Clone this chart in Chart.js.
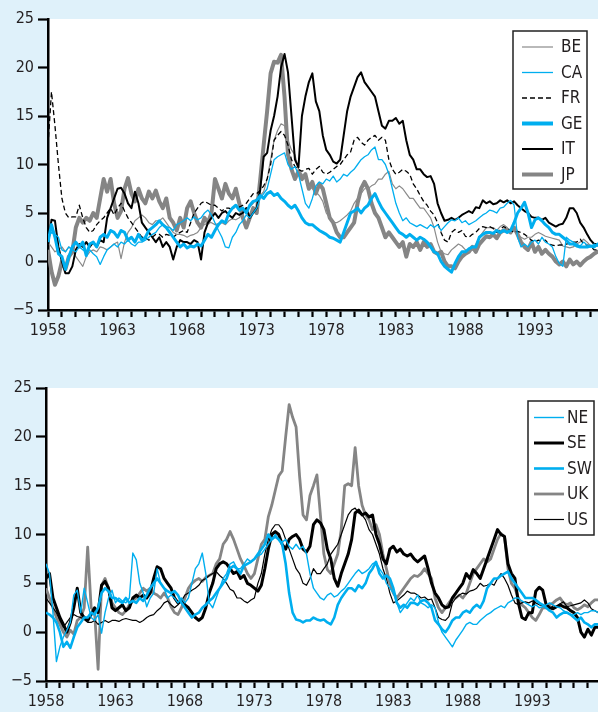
<!DOCTYPE html>
<html>
<head>
<meta charset="utf-8">
<script src="https://cdn.jsdelivr.net/npm/chart.js@4/dist/chart.umd.min.js"></script>
<style>
  html, body { margin: 0; padding: 0; background: #dff1fa; }
  #wrap { position: relative; width: 598px; height: 712px; overflow: hidden; }
  canvas { position: absolute; left: 0; }
</style>
</head>
<body>
<div id="wrap">
  <canvas id="topChart" width="598" height="340" style="top:0"></canvas>
  <canvas id="bottomChart" width="598" height="372" style="top:340px"></canvas>
</div>
<script>
// Annual inflation rates, quarterly observations starting in 1958 Q1.
const START_YEAR = 1958;
const STEP = 0.25;

const X_TICK_YEARS = [];
for (let y = 1958; y <= 1997; y++) X_TICK_YEARS.push(y);
const X_LABEL_YEARS = [1958, 1963, 1968, 1973, 1978, 1983, 1988, 1993];
const Y_TICKS = [-5, 0, 5, 10, 15, 20, 25];

// ---- upper panel ----
const BE = [
  2.0,1.5,1.0,1.2, 1.5,1.0,1.5,1.2, 0.5,0.0,-0.5,0.5, 1.0,1.2,1.0,1.5, 1.4,1.2,1.5,1.8,
  2.0,0.3,2.0,3.0, 3.5,4.2,4.5,4.8, 4.5,4.0,3.8,4.2, 4.2,4.5,4.0,3.5, 3.0,2.8,2.8,2.7,
  2.5,2.7,2.8,3.0, 3.5,3.8,4.0,4.0, 3.8,3.9,4.0,3.8, 4.2,4.4,4.3,4.5, 5.0,5.5,5.6,6.0,
  6.5,6.8,7.2,8.5, 10.5,12.5,13.5,14.2, 14.0,12.5,11.5,11.0, 9.5,9.0,8.5,7.8, 7.5,7.2,6.8,6.2,
  5.0,4.5,4.0,4.0, 4.2,4.5,4.8,5.2, 6.0,6.5,7.0,7.5, 7.5,7.8,8.0,8.5, 8.5,9.0,9.3,8.0,
  7.5,7.8,7.5,7.0, 6.5,6.5,6.0,5.5, 5.5,5.0,4.5,3.5, 2.0,1.0,0.8,0.7, 1.2,1.5,1.8,1.6,
  1.2,1.0,1.2,1.8, 2.5,3.0,3.5,3.5, 3.5,3.2,3.6,3.8, 3.5,3.0,3.2,2.8, 2.5,2.3,2.5,2.5,
  2.8,3.0,2.8,2.6, 2.5,2.4,2.3,2.2, 1.6,1.5,1.4,1.5, 1.8,2.0,2.3,2.0, 1.6,1.5,1.6,1.5
];
const CA = [
  2.5,3.0,2.8,2.5, 1.2,1.0,1.5,1.2, 1.0,1.5,1.2,1.0, 1.2,0.8,0.5,-0.3, 0.5,1.2,1.5,1.8,
  1.5,2.0,1.8,2.2, 1.8,1.6,2.0,2.0, 2.2,2.5,2.8,3.0, 3.5,3.8,3.6,3.5, 3.2,3.8,4.0,4.2,
  4.5,4.2,4.6,4.3, 4.5,5.0,5.3,4.8, 4.0,3.2,2.5,1.5, 1.4,2.5,3.0,3.8, 4.2,4.8,4.5,5.0,
  5.5,6.5,7.0,7.5, 9.0,10.5,10.8,11.0, 11.2,10.0,9.5,9.8, 9.0,7.5,6.0,5.5, 6.5,7.8,8.2,8.0,
  8.5,8.3,8.8,8.2, 8.5,9.0,8.8,9.2, 9.5,10.0,10.5,10.8, 11.0,11.5,11.8,10.5, 10.5,10.0,9.0,7.5,
  6.0,5.0,4.2,4.5, 4.0,3.8,3.6,3.8, 3.6,3.4,3.8,3.5, 3.8,3.2,3.6,4.0, 4.3,4.2,4.5,4.0,
  4.2,3.8,4.0,4.2, 4.5,4.8,5.0,5.3, 5.2,5.0,5.5,5.6, 6.0,6.3,5.8,2.5, 1.5,1.8,1.5,2.0,
  2.2,1.8,2.5,2.0, 1.8,1.5,0.5,-0.2, -0.5,2.5,2.2,2.0, 1.8,1.6,2.0,1.7, 1.5,1.8,1.6,1.5
];
const FR = [
  12.0,17.5,14.0,10.0, 6.5,5.0,4.5,4.6, 4.6,5.8,4.5,3.5, 3.0,3.2,3.8,4.2, 4.5,5.0,5.5,4.8,
  5.5,6.0,5.2,4.5, 4.0,3.5,3.0,2.5, 2.5,2.2,2.5,2.8, 2.8,2.5,2.8,2.7, 2.5,2.8,3.0,3.2,
  3.0,4.0,5.0,5.5, 6.0,6.2,6.0,5.8, 5.8,5.5,5.2,5.5, 5.5,5.3,5.8,5.6, 5.8,6.0,6.5,7.0,
  7.0,7.3,7.8,8.5, 10.0,12.5,13.0,13.4, 13.0,12.0,10.5,9.8, 9.5,9.3,9.5,9.6, 9.0,9.5,9.8,9.2,
  9.0,9.2,9.5,9.8, 10.0,10.5,11.0,11.3, 12.5,12.8,12.3,12.0, 12.5,12.8,13.0,12.5, 12.8,12.5,10.5,9.5,
  9.0,9.2,9.5,9.3, 9.0,8.0,7.5,6.8, 6.2,5.8,5.2,4.8, 4.0,3.0,2.2,2.0, 3.0,3.3,3.0,3.2,
  2.6,2.5,2.8,3.0, 3.4,3.6,3.5,3.6, 3.4,3.0,3.3,3.6, 3.4,3.2,3.0,3.1, 3.0,2.8,2.5,2.2,
  2.0,2.2,2.1,2.2, 1.8,1.7,1.6,1.7, 1.7,1.8,1.9,2.0, 2.0,2.3,1.8,1.7, 1.6,1.2,1.2,1.3
];
const GE = [
  2.0,3.8,2.5,0.8, 0.5,-0.8,0.5,1.5, 2.0,1.5,2.0,0.6, 1.8,2.0,1.5,2.5, 2.8,2.5,3.2,3.0,
  2.5,3.2,3.0,2.2, 2.5,2.0,2.8,2.2, 2.5,3.2,3.5,3.8, 4.2,3.8,3.5,3.0, 2.5,2.0,1.5,1.8,
  1.4,1.6,1.5,1.8, 1.6,2.2,2.8,2.5, 3.2,3.8,4.2,4.0, 5.0,5.5,5.8,5.3, 5.5,5.0,5.8,6.2,
  6.3,6.8,6.5,7.0, 7.2,6.8,7.0,6.5, 6.2,5.8,5.5,5.8, 5.2,4.5,4.0,3.8, 3.8,3.5,3.2,3.0,
  2.8,2.5,2.4,2.2, 2.0,3.0,4.0,5.0, 5.2,5.5,5.0,5.5, 5.8,6.5,7.0,6.2, 5.5,5.0,4.5,4.0,
  3.5,3.0,2.8,2.5, 2.8,2.5,2.2,2.5, 2.3,2.0,1.5,1.0, 0.8,0.0,-0.5,-0.8, -1.1,-0.2,0.5,1.0,
  1.0,1.3,1.5,1.5, 2.5,2.8,3.0,3.0, 2.9,3.2,3.0,3.2, 3.0,3.2,4.0,5.0, 5.5,6.1,5.0,3.5,
  4.3,4.5,4.2,3.8, 3.5,3.0,2.8,2.8, 2.5,2.2,1.8,1.8, 1.6,1.5,1.5,1.5, 1.6,1.5,1.8,1.8
];
const IT = [
  1.8,4.3,4.2,1.5, 0.0,-1.2,-1.2,-0.5, 1.2,1.8,1.5,2.0, 1.5,2.0,1.5,2.2, 2.0,4.5,5.5,6.5,
  7.5,7.6,7.0,6.0, 5.5,7.2,6.0,4.0, 3.5,3.0,2.5,2.0, 2.5,1.5,2.0,1.5, 0.2,1.5,2.2,2.0,
  2.0,1.8,2.2,2.0, 0.2,3.0,4.0,4.5, 5.0,4.5,5.0,5.2, 4.8,4.5,5.0,4.8, 5.0,5.5,4.5,5.0,
  5.5,7.4,10.8,11.2, 13.5,15.0,17.0,20.0, 21.4,19.5,15.0,10.5, 9.7,15.0,17.0,18.5, 19.4,16.5,15.5,13.0,
  11.5,11.0,10.3,10.1, 10.5,13.0,15.5,17.0, 18.0,19.0,19.5,18.5, 18.0,17.5,17.0,15.5, 14.0,13.7,14.5,14.5,
  14.8,14.2,14.5,12.5, 11.0,10.5,9.5,9.5, 9.0,8.7,8.8,8.0, 6.0,5.0,4.2,4.3, 4.5,4.3,4.5,4.8,
  5.0,5.2,5.0,5.6, 5.5,6.3,6.0,6.2, 5.9,6.0,6.3,6.1, 6.3,6.0,6.2,5.8, 5.5,5.2,5.0,4.6,
  4.5,4.5,4.3,4.5, 4.0,3.8,3.6,3.8, 3.9,4.5,5.5,5.5, 5.0,4.0,3.5,2.8, 2.2,1.8,1.8,1.8
];
const JP = [
  1.2,-1.0,-2.4,-1.5, 0.0,-0.8,0.5,1.0, 3.5,4.5,4.0,4.5, 4.2,5.0,4.5,6.5, 8.5,7.2,8.5,6.0,
  4.5,5.2,7.5,8.6, 7.0,6.2,7.5,6.5, 6.0,7.2,6.5,7.3, 6.2,5.5,6.5,4.5, 4.0,3.2,4.5,3.5,
  5.5,6.2,5.0,4.0, 3.5,4.5,4.0,5.0, 8.5,7.5,6.5,8.0, 7.0,6.5,7.5,6.0, 4.5,3.5,4.5,5.5,
  5.0,8.4,12.0,15.5, 19.4,20.6,20.5,21.3, 17.0,11.0,9.5,8.5, 9.3,8.5,9.0,7.5, 8.2,7.0,8.0,7.5,
  6.0,4.5,4.0,3.0, 2.5,2.5,3.0,3.5, 4.0,6.0,7.5,8.2, 7.5,6.0,5.0,4.5, 3.5,2.5,3.0,2.5,
  2.0,1.5,2.0,0.5, 1.8,1.5,2.0,1.2, 2.0,1.5,1.8,1.0, 0.8,1.0,0.0,-0.5, -0.5,-0.7,0.0,0.5,
  0.8,1.0,1.5,1.0, 1.8,2.2,2.6,2.5, 2.8,2.4,3.0,3.2, 3.3,3.0,3.5,2.8, 2.0,1.5,1.2,2.0,
  1.0,1.5,0.8,1.2, 0.8,0.5,0.0,-0.3, 0.0,-0.5,0.2,-0.3, 0.0,-0.4,0.0,0.3, 0.5,0.8,1.0,1.0
];

// ---- lower panel ----
const NE = [
  7.0,6.0,2.0,-3.0, -1.5,-0.5,0.2,1.0, 3.8,4.3,2.0,4.5, 3.0,1.5,1.2,1.8, -0.1,2.0,3.5,4.3,
  3.0,3.5,3.2,3.0, 3.5,8.1,7.4,5.0, 4.0,2.6,3.5,4.0, 6.5,5.0,4.5,3.5, 3.8,3.5,3.0,3.5,
  3.0,3.5,5.0,6.5, 7.0,8.1,6.0,3.0, 2.5,3.5,4.5,5.5, 6.0,7.0,7.2,6.5, 6.5,7.0,7.5,7.2,
  7.5,7.8,8.0,8.5, 9.0,9.5,10.0,9.5, 9.2,9.5,8.8,8.5, 9.0,8.5,8.8,8.0, 6.0,4.5,4.0,3.5,
  3.3,3.8,4.0,3.6, 3.8,4.2,4.5,5.0, 5.5,6.0,6.4,6.0, 6.2,6.5,7.0,7.2, 6.5,6.0,5.0,4.5,
  4.0,3.0,2.0,2.5, 3.0,3.5,3.2,3.8, 3.0,2.8,2.5,2.8, 2.5,1.0,0.0,-0.5, -1.0,-1.5,-0.8,-0.3,
  0.2,0.8,1.0,0.8, 0.8,1.2,1.5,1.8, 2.0,2.3,2.5,2.7, 2.5,3.0,3.2,3.5, 3.5,3.2,3.0,2.8,
  2.6,2.8,2.5,2.6, 2.8,3.0,2.8,2.6, 2.5,2.2,2.0,1.8, 1.8,2.0,1.8,2.0, 2.0,2.2,2.2,2.0
];
const SE = [
  5.5,6.0,3.5,2.5, 1.5,0.8,0.0,1.0, 2.5,4.5,2.0,1.5, 1.2,1.8,2.5,2.0, 4.8,5.2,4.5,2.5,
  2.2,2.5,2.8,2.2, 2.5,3.5,3.8,3.5, 3.8,3.5,4.0,5.5, 6.7,6.5,5.5,5.0, 4.5,3.5,3.0,3.2,
  2.8,2.5,2.0,1.5, 1.2,1.5,2.5,4.0, 5.0,6.5,7.0,7.2, 7.0,6.5,6.0,6.2, 5.5,5.8,5.0,4.8,
  4.5,4.2,4.8,6.5, 8.5,10.0,10.3,10.0, 9.0,8.5,9.5,9.8, 10.0,9.5,8.5,8.2, 8.8,11.0,11.5,11.2,
  10.5,8.5,7.5,5.5, 4.7,6.0,7.0,8.0, 9.5,12.2,12.5,12.0, 12.2,11.8,12.0,10.0, 9.0,7.5,7.0,8.5,
  8.8,8.2,8.5,8.0, 7.8,8.0,7.5,7.2, 7.5,7.8,6.5,5.0, 4.0,3.5,2.8,2.5, 2.6,3.5,4.0,4.5,
  5.0,6.0,5.5,6.4, 6.0,5.5,6.5,7.5, 8.5,9.5,10.5,10.0, 9.8,7.0,6.0,5.5, 3.0,1.5,1.3,2.0,
  2.0,4.2,4.6,4.3, 2.8,2.5,2.4,2.6, 2.8,2.6,2.5,2.2, 2.0,1.5,0.0,-0.5, 0.3,-0.3,0.5,0.5
];
const SW = [
  2.0,1.8,1.5,1.0, 0.0,-1.5,-1.0,-1.6, -0.5,0.5,1.0,1.5, 1.5,2.0,1.8,2.5, 4.0,4.5,4.2,3.5,
  3.5,3.2,3.0,3.5, 3.0,3.2,3.0,3.5, 3.2,3.8,4.5,5.0, 5.5,5.0,4.5,4.2, 4.0,4.2,3.8,3.0,
  2.5,2.0,1.5,1.8, 2.0,2.5,2.8,3.2, 3.5,4.0,4.5,5.0, 5.5,6.5,6.8,6.5, 6.0,6.8,7.0,7.2,
  7.5,8.0,8.5,9.0, 10.0,9.5,9.8,9.5, 9.0,7.0,4.0,2.0, 1.3,1.2,1.0,1.2, 1.2,1.5,1.3,1.2,
  1.3,1.0,0.8,1.5, 2.8,3.5,4.0,4.5, 4.5,4.2,4.8,4.5, 5.0,6.0,6.5,7.2, 6.0,5.5,5.8,5.5,
  4.5,3.0,2.5,2.8, 2.5,3.0,3.0,2.8, 3.2,3.3,3.0,2.5, 1.2,0.8,0.3,0.0, 0.5,1.2,1.5,1.5,
  2.0,2.2,2.0,2.5, 2.8,2.5,3.2,4.5, 5.0,5.5,5.5,5.8, 6.0,6.2,5.5,5.0, 4.5,4.0,3.5,3.5,
  3.5,3.3,3.0,2.8, 2.5,2.2,2.0,1.5, 1.8,2.0,2.0,1.8, 1.5,1.2,1.5,1.0, 0.8,0.5,0.8,0.8
];
const UK = [
  4.5,3.5,2.5,1.5, 0.8,0.0,-0.5,0.2, -0.2,1.2,1.5,2.5, 8.7,2.5,2.0,-3.8, 4.8,5.5,4.5,3.0,
  2.5,2.0,1.8,2.2, 2.8,3.2,3.5,4.0, 4.5,4.2,4.5,4.0, 3.8,3.5,4.0,3.5, 2.6,2.0,1.8,2.5,
  3.5,4.5,5.0,5.3, 5.5,5.2,5.6,5.8, 6.0,7.0,7.5,9.0, 9.5,10.3,9.5,8.5, 7.5,6.8,6.0,5.5,
  6.0,7.5,9.0,9.5, 11.8,13.0,14.5,16.0, 16.5,20.0,23.3,22.0, 21.0,16.0,12.0,11.5, 14.0,15.0,16.1,12.0,
  8.0,6.4,6.0,7.0, 8.0,10.5,15.0,15.2, 15.0,18.9,15.0,13.0, 12.0,11.5,10.5,11.0, 10.0,8.0,6.5,5.0,
  4.0,3.5,4.0,4.5, 5.0,5.5,5.8,5.7, 6.0,6.5,6.0,5.5, 3.5,2.5,2.0,2.5, 3.0,3.5,3.5,3.8,
  3.5,4.0,5.0,6.0, 6.5,7.0,7.5,7.2, 7.5,8.5,9.5,10.1, 9.8,6.5,5.0,4.5, 3.5,2.8,2.5,2.0,
  1.5,1.2,1.8,2.5, 2.5,2.8,3.0,3.3, 3.5,3.0,2.8,3.0, 2.5,2.3,2.5,2.8, 2.6,3.0,3.3,3.3
];
const US = [
  3.5,3.0,2.5,2.0, 1.2,0.5,1.0,1.5, 1.8,1.6,1.5,1.3, 1.0,1.0,1.2,0.8, 1.0,1.2,1.0,1.2,
  1.2,1.1,1.3,1.4, 1.3,1.2,1.2,1.0, 1.2,1.5,1.7,1.8, 2.2,2.5,3.0,3.2, 2.8,2.5,2.8,3.2,
  3.8,4.0,4.3,4.5, 4.8,5.3,5.5,5.8, 6.0,6.2,5.8,5.5, 5.0,4.4,4.2,3.5, 3.5,3.2,3.0,3.3,
  3.5,5.0,6.0,8.0, 9.5,10.5,11.0,11.0, 10.5,9.5,8.5,7.5, 6.5,6.0,5.0,4.8, 5.5,6.5,6.0,6.0,
  6.5,7.0,8.0,8.5, 9.0,10.0,11.0,12.0, 12.5,12.7,12.2,12.0, 11.5,10.5,10.0,9.0, 8.0,6.5,5.5,4.0,
  3.0,3.2,3.5,3.8, 4.2,4.0,4.0,3.8, 3.5,3.6,3.3,3.4, 2.5,1.5,1.3,1.2, 1.6,3.0,3.5,3.8,
  4.0,3.9,4.2,4.3, 4.5,5.0,4.7,4.8, 5.0,4.8,5.5,6.0, 5.5,4.8,3.8,3.0, 2.8,3.0,3.1,3.0,
  3.2,3.0,2.8,2.7, 2.5,2.4,2.7,2.6, 2.9,3.1,2.6,2.7, 2.8,2.9,3.0,3.3, 3.0,2.4,2.2,2.0
];

const CYAN = '#00aeef';
const GREY = '#858585';
const INK = '#231f20';
const FONT = "'Liberation Sans Narrow', 'DejaVu Sans Condensed', 'Arial Narrow', sans-serif";

function points(values) {
  return values.map((v, i) => ({ x: START_YEAR + i * STEP, y: v }));
}

function line(label, values, color, width, extra) {
  return Object.assign({
    label, data: points(values), borderColor: color, borderWidth: width,
    pointRadius: 0, tension: 0, fill: false, borderJoinStyle: 'round', borderCapStyle: 'butt'
  }, extra || {});
}

// white plotting area on the blue page
const plotBackground = {
  id: 'plotBackground',
  beforeDraw(chart) {
    const a = chart.chartArea, ctx = chart.ctx;
    ctx.save();
    ctx.fillStyle = '#ffffff';
    ctx.fillRect(a.left, a.top, a.right - a.left, a.bottom - a.top);
    ctx.restore();
  }
};

// framed legend placed inside the plot
const boxLegend = {
  id: 'boxLegend',
  afterDatasetsDraw(chart, args, o) {
    const ctx = chart.ctx;
    ctx.save();
    ctx.fillStyle = '#ffffff';
    ctx.fillRect(o.x, o.y, o.w, o.h);
    ctx.lineWidth = 1.5;
    ctx.strokeStyle = '#222222';
    ctx.strokeRect(o.x, o.y, o.w, o.h);
    o.order.forEach((label, i) => {
      const ds = chart.data.datasets.find(d => d.label === label);
      const cy = o.firstRow + i * o.rowGap;
      ctx.beginPath();
      ctx.setLineDash(ds.borderDash || []);
      ctx.lineWidth = ds.legendWidth || ds.borderWidth;
      ctx.strokeStyle = ds.borderColor;
      ctx.moveTo(o.lineX0, cy);
      ctx.lineTo(o.lineX1, cy);
      ctx.stroke();
      ctx.setLineDash([]);
      ctx.fillStyle = INK;
      ctx.font = '17px ' + FONT;
      ctx.textBaseline = 'middle';
      ctx.textAlign = 'left';
      ctx.fillText(label, o.textX, cy + 1);
    });
    ctx.restore();
  }
};

function makeChart(id, datasets, cfg) {
  return new Chart(document.getElementById(id), {
    type: 'line',
    data: { datasets },
    plugins: [plotBackground, boxLegend],
    options: {
      responsive: false,
      animation: false,
      devicePixelRatio: 1,
      layout: { padding: { top: cfg.padTop, left: 0, right: 0, bottom: 0 } },
      plugins: {
        legend: { display: false },
        tooltip: { enabled: false },
        boxLegend: cfg.legend
      },
      scales: {
        x: {
          type: 'linear', min: START_YEAR, max: cfg.xMax,
          afterBuildTicks: s => { s.ticks = X_TICK_YEARS.map(v => ({ value: v })); },
          afterFit: s => { s.height = cfg.xHeight; },
          grid: { drawOnChartArea: false, drawTicks: true, tickLength: 7, tickWidth: 2.2, tickColor: '#000' },
          border: { display: true, color: '#000', width: 2.5 },
          ticks: {
            autoSkip: false, maxRotation: 0, padding: 4, color: INK,
            font: { family: FONT, size: 16 },
            callback: v => X_LABEL_YEARS.includes(v) ? String(v) : ''
          }
        },
        y: {
          min: -5, max: 25,
          afterBuildTicks: s => { s.ticks = Y_TICKS.map(v => ({ value: v })); },
          afterFit: s => { s.width = cfg.yWidth; },
          grid: { drawOnChartArea: false, drawTicks: true, tickLength: 10, tickWidth: 2.2, tickColor: '#000' },
          border: { display: true, color: '#000', width: 2.5 },
          ticks: {
            padding: 4, color: INK,
            font: { family: FONT, size: 16 },
            callback: v => v < 0 ? '\u2212' + Math.abs(v) : String(v)
          }
        }
      }
    }
  });
}

// first dataset is drawn on top
makeChart('topChart', [
  line('GE', GE, CYAN, 3, { legendWidth: 4 }),
  line('CA', CA, CYAN, 1.3),
  line('IT', IT, '#000000', 2),
  line('FR', FR, '#000000', 1.3, { borderDash: [5, 3] }),
  line('BE', BE, '#8a8a8a', 1.2),
  line('JP', JP, GREY, 4)
], {
  padTop: 19, xHeight: 30, yWidth: 48, xMax: 1997.53,
  legend: {
    x: 513, y: 31, w: 74, h: 158, firstRow: 47, rowGap: 25.5,
    lineX0: 522, lineX1: 553, textX: 561,
    order: ['BE', 'CA', 'FR', 'GE', 'IT', 'JP']
  }
});

makeChart('bottomChart', [
  line('SW', SW, CYAN, 2.6),
  line('NE', NE, CYAN, 1.4),
  line('SE', SE, '#000000', 3),
  line('US', US, '#000000', 1.2),
  line('UK', UK, GREY, 2.8)
], {
  padTop: 48, xHeight: 31, yWidth: 46, xMax: 1997.73,
  legend: {
    x: 528, y: 61, w: 66, h: 134, firstRow: 77.5, rowGap: 25.5,
    lineX0: 534, lineX1: 564, textX: 567,
    order: ['NE', 'SE', 'SW', 'UK', 'US']
  }
});
</script>
</body>
</html>
